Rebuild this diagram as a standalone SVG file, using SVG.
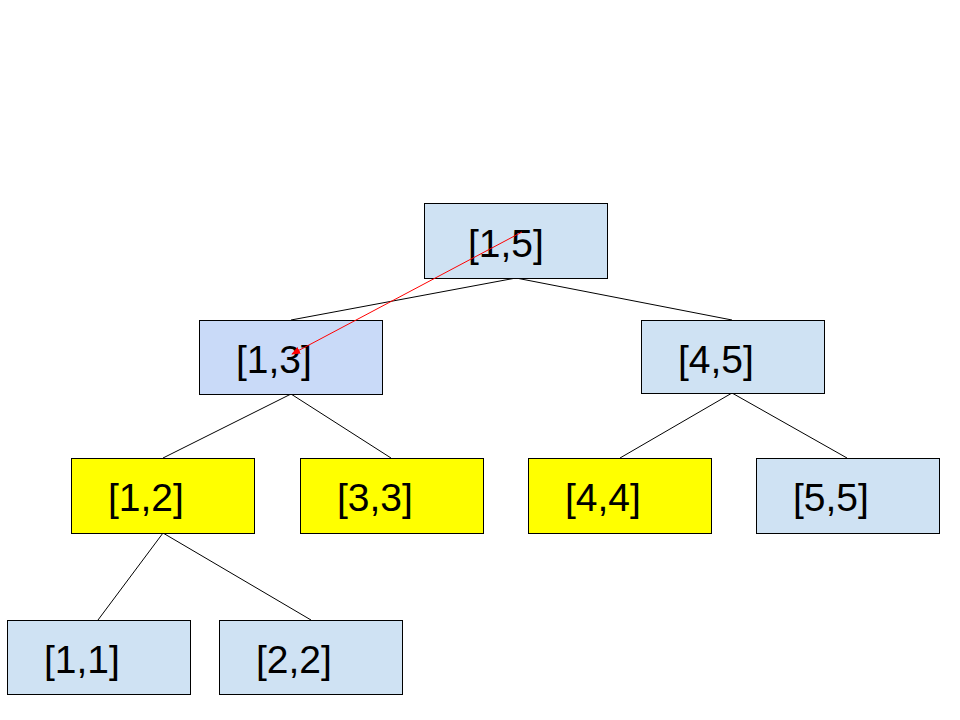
<svg xmlns="http://www.w3.org/2000/svg" width="960" height="720" viewBox="0 0 960 720">
  <style>
    .box { stroke: #000000; stroke-width: 1; }
    .blue { fill: #cfe2f3; }
    .blue2 { fill: #c9daf8; }
    .yellow { fill: #ffff00; }
    .label { font-family: "Liberation Sans", Arial, sans-serif; font-size: 39px; fill: #000000; }
    .edge { stroke: #000000; stroke-width: 1; fill: none; }
    .trace { stroke: #ff0000; stroke-width: 1; fill: none; }
  </style>
  <defs>
    <marker id="redhead" viewBox="0 0 10 10" refX="9" refY="5" markerWidth="9" markerHeight="9" markerUnits="userSpaceOnUse" orient="auto">
      <path d="M0,1 L10,5 L0,9 Z" fill="#ff0000"/>
    </marker>
  </defs>
  <rect width="960" height="720" fill="#ffffff"/>

  <g id="connectors">
    <line class="edge" x1="516" y1="278" x2="291" y2="320"/>
    <line class="edge" x1="516" y1="278" x2="732" y2="320"/>
    <line class="edge" x1="291" y1="394" x2="163" y2="458"/>
    <line class="edge" x1="291" y1="394" x2="391" y2="458"/>
    <line class="edge" x1="732" y1="393" x2="620" y2="458"/>
    <line class="edge" x1="732" y1="393" x2="847" y2="458"/>
    <line class="edge" x1="163" y1="533" x2="98" y2="620"/>
    <line class="edge" x1="163" y1="533" x2="311" y2="620"/>
  </g>

  <g id="n15">
    <rect class="box blue" x="424.5" y="203.5" width="183" height="75"/>
    <text class="label" x="468" y="257">[1,5]</text>
  </g>
  <g id="n13">
    <rect class="box blue2" x="199.5" y="320.5" width="183" height="74"/>
    <text class="label" x="236" y="373">[1,3]</text>
  </g>
  <g id="n45">
    <rect class="box blue" x="641.5" y="320.5" width="183" height="73"/>
    <text class="label" x="678" y="373">[4,5]</text>
  </g>
  <g id="n12">
    <rect class="box yellow" x="71.5" y="458.5" width="183" height="75"/>
    <text class="label" x="108" y="511">[1,2]</text>
  </g>
  <g id="n33">
    <rect class="box yellow" x="300.5" y="458.5" width="183" height="75"/>
    <text class="label" x="337" y="511">[3,3]</text>
  </g>
  <g id="n44">
    <rect class="box yellow" x="528.5" y="458.5" width="183" height="75"/>
    <text class="label" x="565" y="511">[4,4]</text>
  </g>
  <g id="n55">
    <rect class="box blue" x="756.5" y="458.5" width="183" height="75"/>
    <text class="label" x="793" y="511">[5,5]</text>
  </g>
  <g id="n11">
    <rect class="box blue" x="7.5" y="620.5" width="183" height="74"/>
    <text class="label" x="44" y="673">[1,1]</text>
  </g>
  <g id="n22">
    <rect class="box blue" x="219.5" y="620.5" width="183" height="74"/>
    <text class="label" x="256" y="673">[2,2]</text>
  </g>

  <g id="trace">
    <line class="trace" x1="522" y1="232" x2="292" y2="354" marker-end="url(#redhead)"/>
  </g>
</svg>
